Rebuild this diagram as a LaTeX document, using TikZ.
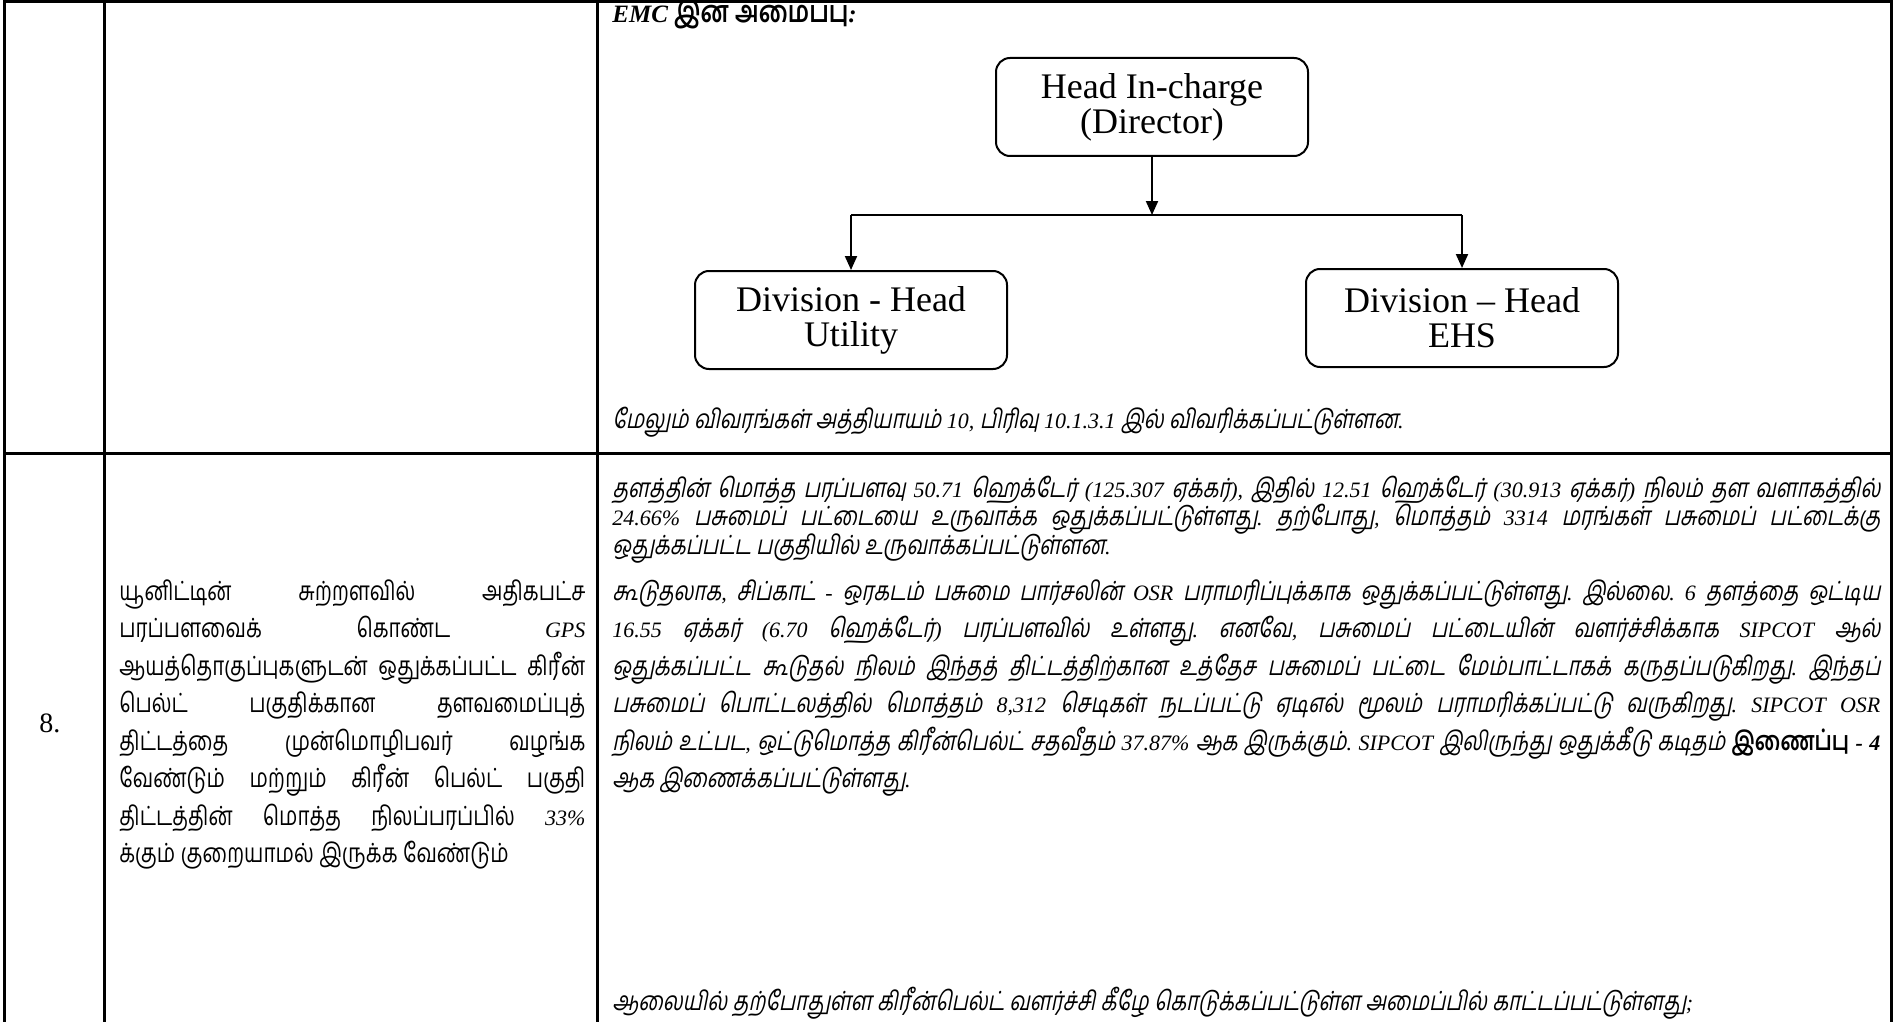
\documentclass[tikz,border=0pt]{standalone}
\usepackage{fontspec}
\setmainfont{Liberation Serif}
\newfontfamily\bodylatin{Liberation Serif}
\newfontfamily\tamilfont{Hind Madurai}[Script=Tamil, Scale=1.2, FakeStretch=0.78, AutoFakeSlant=0.2]
\usetikzlibrary{arrows.meta}
\XeTeXinterchartokenstate=1
\newXeTeXintercharclass\tamclass
\newcount\tmpc
\tmpc="0B80
\loop
  \XeTeXcharclass\tmpc=\tamclass
  \ifnum\tmpc<"0BFF \advance\tmpc by 1
\repeat
\XeTeXinterchartoks 0 \tamclass = {\tamilfont}
\XeTeXinterchartoks 4095 \tamclass = {\tamilfont}
\XeTeXinterchartoks \tamclass 0 = {\bodylatin}
\XeTeXinterchartoks \tamclass 4095 = {\bodylatin}
\frenchspacing
\newcommand\rcl[1]{\makebox[634pt][s]{#1}}
\newcommand\lcl[1]{\makebox[233pt][s]{#1}}
\tikzset{
  tbl/.style={line width=1.5pt},
  orgbox/.style={draw, line width=1pt, rounded corners=7pt, minimum width=156pt, minimum height=49pt, align=center, inner sep=0pt, font=\fontsize{18}{17.5}\selectfont},
  arr/.style={line width=1pt, -{Triangle[length=7pt,width=6pt]}},
  conn/.style={line width=1pt},
  bodyit/.style={anchor=base west, inner sep=0pt, font=\fontsize{11}{14}\selectfont\frenchspacing\bodylatin\itshape},
  bodyup/.style={anchor=base west, inner sep=0pt, font=\fontsize{11}{14}\selectfont\frenchspacing\bodylatin},
}
\begin{document}
\begin{tikzpicture}[x=0.5pt,y=-0.5pt]
\useasboundingbox (0,0) rectangle (1896,1022);
% table grid
\draw[tbl] (4,2) -- (1891,2);
\draw[tbl] (4,453) -- (1891,453);
\draw[tbl] (4,0) -- (4,1022);
\draw[tbl] (104,0) -- (104,1022);
\draw[tbl] (597,0) -- (597,1022);
\draw[tbl] (1891,0) -- (1891,1022);
% row 1
\node[bodyit, font=\fontsize{12.5}{14}\selectfont\bodylatin\itshape\bfseries] (title) at (612,23) {EMC இன் அமைப்பு:};
\node[orgbox] (head) at (1152,107) {Head In-charge\\(Director)};
\node[orgbox] (util) at (851,320) {Division - Head\\Utility};
\node[orgbox] (ehs) at (1462,318) {Division – Head\\EHS};
\coordinate (j) at (1152,215);
\coordinate (jl) at (851,215);
\coordinate (jr) at (1462,215);
\draw[arr] (head.south) -- (j);
\draw[conn] (jl) -- (jr);
\draw[arr] (jl) -- (util.north);
\draw[arr] (jr) -- (ehs.north);
\node[bodyit] (more) at (612,428) {மேலும் விவரங்கள் அத்தியாயம் 10, பிரிவு 10.1.3.1 இல் விவரிக்கப்பட்டுள்ளன.};
% row 2
\node[anchor=base, inner sep=0pt, font=\fontsize{14}{16}\selectfont] (num) at (50,732) {8.};
\node[bodyup] (l1) at (119,600) {\lcl{யூனிட்டின் சுற்றளவில் அதிகபட்ச}};
\node[bodyup] (l2) at (119,637.5) {\lcl{பரப்பளவைக் கொண்ட \textit{GPS}}};
\node[bodyup] (l3) at (119,675) {\lcl{ஆயத்தொகுப்புகளுடன் ஒதுக்கப்பட்ட கிரீன்}};
\node[bodyup] (l4) at (119,712.5) {\lcl{பெல்ட் பகுதிக்கான தளவமைப்புத்}};
\node[bodyup] (l5) at (119,750) {\lcl{திட்டத்தை முன்மொழிபவர் வழங்க}};
\node[bodyup] (l6) at (119,787.5) {\lcl{வேண்டும் மற்றும் கிரீன் பெல்ட் பகுதி}};
\node[bodyup] (l7) at (119,825) {\lcl{திட்டத்தின் மொத்த நிலப்பரப்பில் \textit{33\%}}};
\node[bodyup] (l8) at (119,862.5) {க்கும் குறையாமல் இருக்க வேண்டும்};
% right column
\node[bodyit] (p1a) at (612,497) {\rcl{தளத்தின் மொத்த பரப்பளவு 50.71 ஹெக்டேர் (125.307 ஏக்கர்), இதில் 12.51 ஹெக்டேர் (30.913 ஏக்கர்) நிலம் தள வளாகத்தில்}};
\node[bodyit] (p1b) at (612,525) {\rcl{24.66\% பசுமைப் பட்டையை உருவாக்க ஒதுக்கப்பட்டுள்ளது. தற்போது, மொத்தம் 3314 மரங்கள் பசுமைப் பட்டைக்கு}};
\node[bodyit] (p1c) at (612,554) {ஒதுக்கப்பட்ட பகுதியில் உருவாக்கப்பட்டுள்ளன.};
\node[bodyit] (p2a) at (612,600) {\rcl{கூடுதலாக, சிப்காட் - ஒரகடம் பசுமை பார்சலின் OSR பராமரிப்புக்காக ஒதுக்கப்பட்டுள்ளது. இல்லை. 6 தளத்தை ஒட்டிய}};
\node[bodyit] (p2b) at (612,637.5) {\rcl{16.55 ஏக்கர் (6.70 ஹெக்டேர்) பரப்பளவில் உள்ளது. எனவே, பசுமைப் பட்டையின் வளர்ச்சிக்காக SIPCOT ஆல்}};
\node[bodyit] (p2c) at (612,675) {\rcl{ஒதுக்கப்பட்ட கூடுதல் நிலம் இந்தத் திட்டத்திற்கான உத்தேச பசுமைப் பட்டை மேம்பாட்டாகக் கருதப்படுகிறது. இந்தப்}};
\node[bodyit] (p2d) at (612,712.5) {\rcl{பசுமைப் பொட்டலத்தில் மொத்தம் 8,312 செடிகள் நடப்பட்டு ஏடிஎல் மூலம் பராமரிக்கப்பட்டு வருகிறது. SIPCOT OSR}};
\node[bodyit] (p2e) at (612,750) {\rcl{நிலம் உட்பட, ஒட்டுமொத்த கிரீன்பெல்ட் சதவீதம் 37.87\% ஆக இருக்கும். SIPCOT இலிருந்து ஒதுக்கீடு கடிதம் \textbf{இணைப்பு - 4}}};
\node[bodyit] (p2f) at (612,787.5) {ஆக இணைக்கப்பட்டுள்ளது.};
\node[bodyit] (last) at (612,1010) {ஆலையில் தற்போதுள்ள கிரீன்பெல்ட் வளர்ச்சி கீழே கொடுக்கப்பட்டுள்ள அமைப்பில் காட்டப்பட்டுள்ளது;};
\end{tikzpicture}
\end{document}
